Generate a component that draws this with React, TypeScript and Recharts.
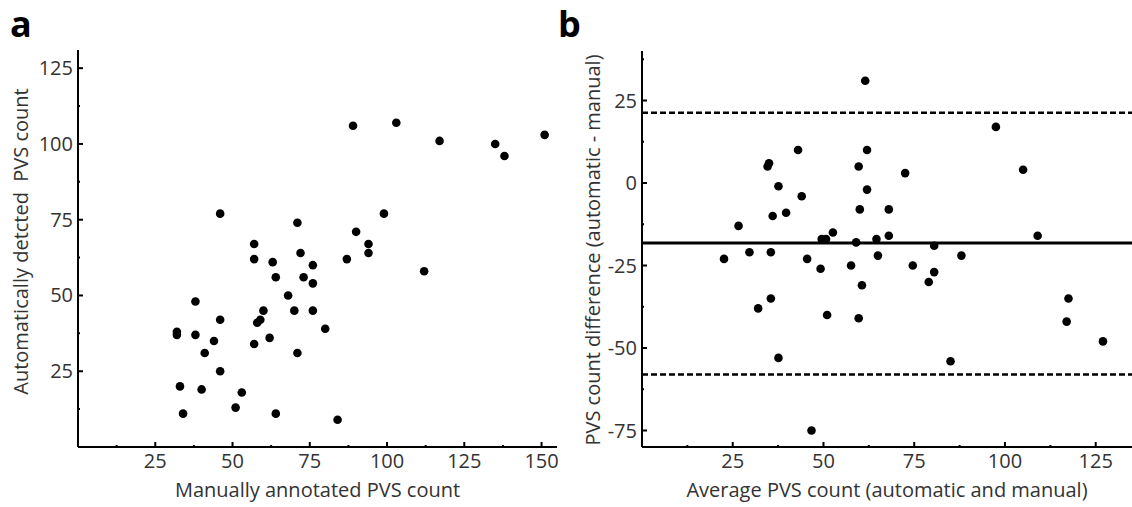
import React from 'react';
import { ScatterChart, Scatter, XAxis, YAxis, ReferenceLine } from 'recharts';

// panel a: manual vs automatic PVS counts
const MANUAL = [46, 71, 57, 57, 72, 63, 76, 64, 73, 76, 68, 38, 60, 70, 76, 46, 59, 58, 32, 32, 38, 80, 44, 57, 62, 41, 71, 46, 33, 40, 53, 51, 34, 64, 84, 89, 103, 117, 135, 138, 151, 99, 90, 94, 94, 87, 112];
const AUTO = [77, 74, 67, 62, 64, 61, 60, 56, 56, 54, 50, 48, 45, 45, 45, 42, 42, 41, 38, 37, 37, 39, 35, 34, 36, 31, 31, 25, 20, 19, 18, 13, 11, 11, 9, 106, 107, 101, 100, 96, 103, 77, 71, 67, 64, 62, 58];

// panel b: Bland-Altman
const AVG = [61.5, 43, 62, 35, 34.6, 59.7, 37.6, 62, 44, 60, 68, 39.7, 36, 26.6, 52.6, 68, 49.5, 50.7, 64.6, 59, 22.6, 29.6, 35.5, 45.5, 65, 49.2, 57.6, 60.6, 35.5, 32, 51, 59.7, 37.6, 46.7, 97.5, 72.5, 105, 109, 80.5, 88, 74.6, 80.5, 79, 117.5, 117, 127, 85];
const DIFF = [31, 10, 10, 6, 5, 5, -1, -2, -4, -8, -8, -9, -10, -13, -15, -16, -17, -17, -17, -18, -23, -21, -21, -23, -22, -26, -25, -31, -35, -38, -40, -41, -53, -75, 17, 3, 4, -16, -19, -22, -25, -27, -30, -35, -42, -48, -54];
const MEAN_DIFF = -18.2;
const UPPER_LOA = 21.3;
const LOWER_LOA = -58;

const A_X_TICKS = [12.5, 25, 37.5, 50, 62.5, 75, 87.5, 100, 112.5, 125, 137.5, 150];
const A_Y_TICKS = [12.5, 25, 37.5, 50, 62.5, 75, 87.5, 100, 112.5, 125];
const B_X_TICKS = [12.5, 25, 37.5, 50, 62.5, 75, 87.5, 100, 112.5, 125];
const B_Y_TICKS = [-75, -62.5, -50, -37.5, -25, -12.5, 0, 12.5, 25, 37.5];

const dataA = MANUAL.map((m, i) => ({ x: m, y: AUTO[i] }));
const dataB = AVG.map((a, i) => ({ x: a, y: DIFF[i] }));

const FONT = '"Open Sans", sans-serif';
const TEXT = '#333';
const GAP = 8;

const isMajor = (v: number) => v % 25 === 0;

const XTick = (props: any) => {
  const { x, y, payload } = props;
  const axisY = y - GAP;
  const major = isMajor(payload.value);
  return (
    <g>
      <line x1={x} x2={x} y1={axisY} y2={axisY - (major ? 5 : 2)} stroke="#000" strokeWidth={2} />
      {major && (
        <text x={x} y={axisY + 21} textAnchor="middle" fontFamily={FONT} fontSize={20} fill={TEXT}>
          {payload.value}
        </text>
      )}
    </g>
  );
};

const YTick = (props: any) => {
  const { x, y, payload } = props;
  const axisX = x + GAP;
  const major = isMajor(payload.value);
  return (
    <g>
      <line x1={axisX} x2={axisX + (major ? 5 : 2)} y1={y} y2={y} stroke="#000" strokeWidth={2} />
      {major && (
        <text x={axisX - 5} y={y + 7} textAnchor="end" fontFamily={FONT} fontSize={20} fill={TEXT}>
          {payload.value}
        </text>
      )}
    </g>
  );
};

const dot = (p: any) => <circle cx={p.cx} cy={p.cy} r={4.3} fill="#000" />;

const xTitle = (text: string) => (p: any) => {
  const vb = p.viewBox;
  return (
    <text x={vb.x + vb.width / 2} y={vb.y + 50} textAnchor="middle" fontFamily={FONT} fontSize={20} fill={TEXT}>
      {text}
    </text>
  );
};

const yTitle = (text: string, cx: number, shift: number) => (p: any) => {
  const vb = p.viewBox;
  const cy = vb.y + vb.height / 2 + shift;
  return (
    <text
      x={cx}
      y={cy}
      transform={`rotate(-90, ${cx}, ${cy})`}
      textAnchor="middle"
      dominantBaseline="central"
      fontFamily={FONT}
      fontSize={20}
      fill={TEXT}
      style={{ whiteSpace: 'pre' }}
    >
      {text}
    </text>
  );
};

export default function App() {
  return (
    <div style={{ position: 'absolute', left: 0, top: 0, width: 1132, height: 507, background: '#fff' }}>
      <div style={{ position: 'absolute', left: 0, top: 0 }}>
        <ScatterChart width={570} height={507} margin={{ top: 50, right: 13, bottom: 0, left: 0 }}>
          <XAxis
            type="number"
            dataKey="x"
            domain={[0, 155]}
            ticks={A_X_TICKS}
            allowDataOverflow
            height={60}
            tickSize={0}
            tickMargin={GAP}
            tick={XTick}
            interval={0}
            axisLine={{ stroke: '#000', strokeWidth: 2 }}
            label={{ content: xTitle('Manually annotated PVS count') }}
          />
          <YAxis
            type="number"
            dataKey="y"
            domain={[0, 131]}
            ticks={A_Y_TICKS}
            allowDataOverflow
            width={78}
            tickSize={0}
            tickMargin={GAP}
            tick={YTick}
            interval={0}
            axisLine={{ stroke: '#000', strokeWidth: 2 }}
            label={{ content: yTitle('Automatically detcted  PVS count', 20, -7) }}
          />
          <Scatter data={dataA} shape={dot} isAnimationActive={false} />
        </ScatterChart>
      </div>
      <div style={{ position: 'absolute', left: 560, top: 0 }}>
        <ScatterChart width={572} height={507} margin={{ top: 51, right: 0, bottom: 0, left: 0 }}>
          <XAxis
            type="number"
            dataKey="x"
            domain={[0, 135]}
            ticks={B_X_TICKS}
            allowDataOverflow
            height={60}
            tickSize={0}
            tickMargin={GAP}
            tick={XTick}
            interval={0}
            axisLine={{ stroke: '#000', strokeWidth: 2 }}
            label={{ content: xTitle('Average PVS count (automatic and manual)') }}
          />
          <YAxis
            type="number"
            dataKey="y"
            domain={[-80, 40]}
            ticks={B_Y_TICKS}
            allowDataOverflow
            width={82}
            tickSize={0}
            tickMargin={GAP}
            tick={YTick}
            interval={0}
            axisLine={{ stroke: '#000', strokeWidth: 2 }}
            label={{ content: yTitle('PVS count difference (automatic - manual)', 32, 1) }}
          />
          <ReferenceLine y={UPPER_LOA} stroke="#000" strokeWidth={2.5} strokeDasharray="6 3" />
          <ReferenceLine y={MEAN_DIFF} stroke="#000" strokeWidth={3} />
          <ReferenceLine y={LOWER_LOA} stroke="#000" strokeWidth={2.5} strokeDasharray="6 3" />
          <Scatter data={dataB} shape={dot} isAnimationActive={false} />
        </ScatterChart>
      </div>
      <svg width={1132} height={507} style={{ position: 'absolute', left: 0, top: 0, pointerEvents: 'none' }}>
        <text x={10} y={37} fontFamily={FONT} fontWeight={700} fontSize={36} fill="#000">a</text>
        <text x={558} y={37} fontFamily={FONT} fontWeight={700} fontSize={36} fill="#000">b</text>
      </svg>
    </div>
  );
}
